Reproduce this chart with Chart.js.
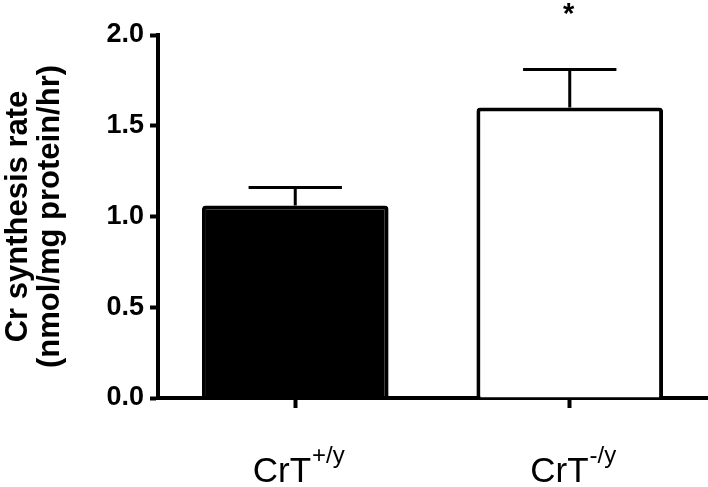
<!DOCTYPE html>
<html>
<head>
<meta charset="utf-8">
<script src="https://cdn.jsdelivr.net/npm/chart.js@4"></script>
<style>
  html, body { margin: 0; padding: 0; background: #fff; }
  #wrap { width: 708px; height: 487px; }
</style>
</head>
<body>
<div id="wrap"><canvas id="c" width="708" height="487"></canvas></div>
<script>
// ---- data ----
const categories = ['CrT+/y', 'CrT-/y'];
const labelBase = ['CrT', 'CrT'];
const labelSup = ['+/y', '-/y'];
const means = [1.06, 1.60];
const errors = [0.10, 0.21];
const significance = ['', '*'];
const yTicks = [0.0, 0.5, 1.0, 1.5, 2.0];
const barFills = ['#000000', '#ffffff'];

const errorBarPlugin = {
  id: 'errorBars',
  afterDatasetsDraw(chart) {
    const ctx = chart.ctx;
    const meta = chart.getDatasetMeta(0);
    const y = chart.scales.y;
    ctx.save();
    ctx.strokeStyle = '#000';
    ctx.lineWidth = 3;
    meta.data.forEach((bar, i) => {
      const yBar = y.getPixelForValue(means[i]);
      const yTop = y.getPixelForValue(means[i] + errors[i]);
      const half = bar.width / 4;
      ctx.beginPath();
      ctx.moveTo(bar.x, yBar);
      ctx.lineTo(bar.x, yTop);
      ctx.moveTo(bar.x - half, yTop);
      ctx.lineTo(bar.x + half, yTop);
      ctx.stroke();
      if (significance[i]) {
        ctx.fillStyle = '#000';
        ctx.font = 'bold 29px "Liberation Sans", Arial, sans-serif';
        ctx.textAlign = 'center';
        ctx.textBaseline = 'alphabetic';
        ctx.fillText(significance[i], bar.x - 1, yTop - 46);
      }
    });
    ctx.restore();
  }
};

const xLabelPlugin = {
  id: 'xLabels',
  afterDraw(chart) {
    const ctx = chart.ctx;
    const x = chart.scales.x;
    ctx.save();
    ctx.fillStyle = '#000';
    ctx.textBaseline = 'alphabetic';
    ctx.textAlign = 'left';
    const baseFont = '35px "Liberation Sans", Arial, sans-serif';
    const supFont = '24px "Liberation Sans", Arial, sans-serif';
    categories.forEach((c, i) => {
      const cx = x.getPixelForValue(i);
      ctx.font = baseFont;
      const wb = ctx.measureText(labelBase[i]).width;
      ctx.font = supFont;
      const ws = ctx.measureText(labelSup[i]).width;
      const start = cx - (wb + ws) / 2 + 3;
      const baseY = 482;
      ctx.font = baseFont;
      ctx.fillText(labelBase[i], start, baseY);
      ctx.font = supFont;
      ctx.fillText(labelSup[i], start + wb + 1, baseY - 19);
    });
    ctx.restore();
  }
};

new Chart(document.getElementById('c'), {
  type: 'bar',
  data: {
    labels: categories,
    datasets: [{
      data: means,
      backgroundColor: barFills,
      borderColor: '#000',
      borderWidth: 4,
      borderRadius: 4,
      borderSkipped: 'bottom',
      barPercentage: 0.68,
      categoryPercentage: 1.0
    }]
  },
  options: {
    responsive: false,
    animation: false,
    devicePixelRatio: 1,
    layout: { padding: { top: 35, right: 1, left: 0, bottom: 0 } },
    plugins: { legend: { display: false }, tooltip: { enabled: false } },
    scales: {
      x: {
        afterFit(scale) { scale.height = 89; },
        grid: { display: true, drawOnChartArea: false, drawTicks: true, offset: false,
                tickLength: 10, tickWidth: 4, tickColor: '#000' },
        border: { display: true, color: '#000', width: 4 },
        ticks: { display: false }
      },
      y: {
        min: 0, max: 2,
        afterFit(scale) { scale.width = 158; },
        afterBuildTicks(scale) { scale.ticks = yTicks.map(v => ({ value: v })); },
        grid: { display: true, drawOnChartArea: false, drawTicks: true,
                tickLength: 8, tickWidth: 4, tickColor: '#000' },
        border: { display: true, color: '#000', width: 4 },
        ticks: {
          color: '#000',
          padding: 6,
          font: { family: '"Liberation Sans", Arial, sans-serif', size: 27, weight: 'bold' },
          callback: v => Number(v).toFixed(1)
        },
        title: {
          display: true,
          text: ['Cr synthesis rate', '(nmol/mg protein/hr)'],
          color: '#000',
          font: { family: '"Liberation Sans", Arial, sans-serif', size: 31, weight: 'bold', lineHeight: 1.05 },
          padding: { top: 2, bottom: 0 }
        }
      }
    }
  },
  plugins: [errorBarPlugin, xLabelPlugin]
});
</script>
</body>
</html>
